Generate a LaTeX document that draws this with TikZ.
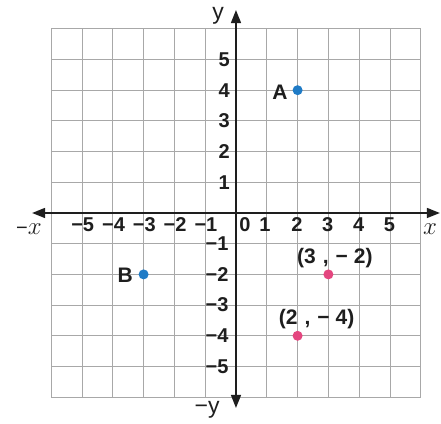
\documentclass[tikz,border=0pt]{standalone}
\usepackage{fontspec}
\setmainfont{Liberation Sans}
\usetikzlibrary{arrows.meta}
\definecolor{gridgray}{HTML}{A8A8A8}
\definecolor{axisblack}{HTML}{1E1E1E}
\definecolor{ptblue}{HTML}{1F7BC6}
\definecolor{ptpink}{HTML}{E4467F}
\begin{document}
\begin{tikzpicture}[x=30.8pt,y=30.7pt,
  gridline/.style={draw=gridgray,line width=0.9pt},
  axisline/.style={draw=axisblack,line width=1.4pt,{Triangle[length=13pt,width=10pt]}-{Triangle[length=13pt,width=10pt]}},
  ticklbl/.style={font=\fontsize{20}{20}\selectfont\bfseries,inner sep=0pt,text=axisblack},
  ptlbl/.style={font=\fontsize{21}{21}\selectfont\bfseries,inner sep=0pt,text=axisblack},
  axlbl/.style={inner sep=0pt,text=axisblack},
  dot/.style={circle,inner sep=0pt,minimum size=10pt,draw=none}
]
\useasboundingbox (-7.662,-6.873) rectangle (6.656,6.938);
\fill[white] (-7.662,-6.873) rectangle (6.656,6.938);
% grid
\foreach \k in {-6,...,6} {
  \draw[gridline] (\k,-6) -- (\k,6);
  \draw[gridline] (-6,\k) -- (6,\k);
}
% axes
\coordinate (xl) at (-6.62,0);
\coordinate (xr) at (6.62,0);
\coordinate (yt) at (0,6.61);
\coordinate (yb) at (0,-6.35);
\draw[axisline] (xl) -- (xr);
\draw[axisline] (yb) -- (yt);
% axis labels
\node[axlbl] (ly) at (-0.58,6.42) {\fontsize{23}{23}\selectfont y};
\node[axlbl] (lmy) at (-0.94,-6.42) {\fontsize{23}{23}\selectfont −y};
\node[axlbl] (lmx) at (-6.72,-0.52) {\fontsize{20}{20}\selectfont −\fontsize{38}{38}\selectfont$x$};
\node[axlbl] (lx) at (6.30,-0.52) {\fontsize{38}{38}\selectfont$x$};
% x tick labels
\foreach \i in {1,...,5} {
  \node[ticklbl,anchor=east] (xtm\i) at (-\i+0.4,-0.38) {−\i};
}
\node[ticklbl] (xt0) at (0.29,-0.38) {0};
\node[ticklbl] (xt1) at (0.94,-0.38) {1};
\foreach \i in {2,...,5} {
  \node[ticklbl] (xt\i) at (\i-0.02,-0.38) {\i};
}
% y tick labels
\foreach \i in {1,...,5} {
  \node[ticklbl,anchor=east] (yt\i) at (-0.2,\i) {\i};
}
\node[ticklbl,anchor=east] (ytm1) at (-0.24,-1.0) {−1};
\foreach \i in {2,...,5} {
  \node[ticklbl,anchor=east] (ytm\i) at (-0.24,-\i) {−\i};
}
% points
\node[dot,fill=ptblue] (A) at (2,4) {};
\node[dot,fill=ptblue] (B) at (-3,-2) {};
\node[dot,fill=ptpink] (P) at (3,-2) {};
\node[dot,fill=ptpink] (Q) at (2,-4) {};
\node[ptlbl] (Alab) at (1.43,3.93) {A};
\node[ptlbl] (Blab) at (-3.6,-2.02) {B};
\node[ptlbl] (Plab) at (3.21,-1.47) {(3\hspace{7pt},\hspace{7pt}−\hspace{6pt}2)};
\node[ptlbl] (Qlab) at (2.62,-3.45) {(2\hspace{7pt},\hspace{7pt}−\hspace{6pt}4)};
\end{tikzpicture}
\end{document}
